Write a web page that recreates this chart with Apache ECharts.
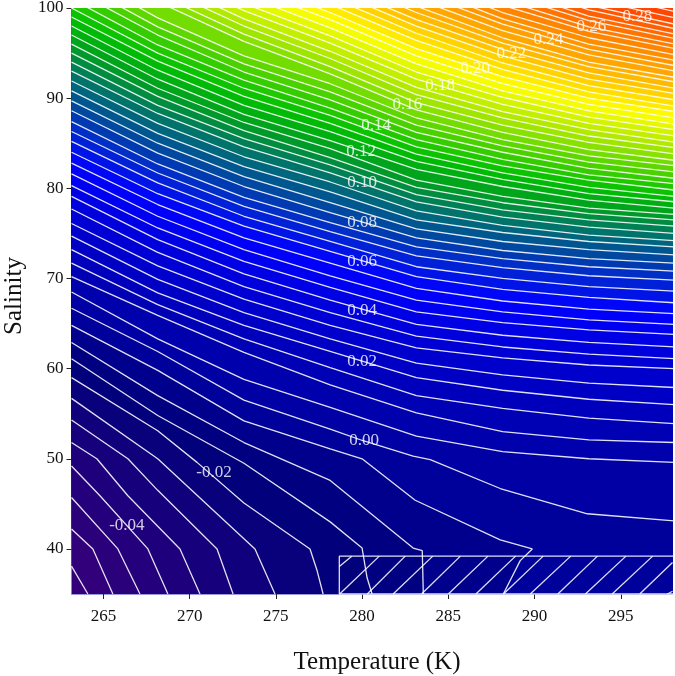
<!DOCTYPE html>
<html><head><meta charset="utf-8">
<style>html,body{margin:0;padding:0;background:#fff}#c{width:675px;height:676px}</style>
<script src="https://cdn.jsdelivr.net/npm/echarts@6/dist/echarts.min.js"></script>
</head><body><div id="c"></div>
<script>
const tempTicks = [265,270,275,280,285,290,295];
const salTicks = [40,50,60,70,80,90,100];
const columnT = [263.15,268.15,273.15,278.15,283.15,288.15,293.15,298.15];
const lowLevels = [-0.055,-0.05,-0.045,-0.04,-0.035,-0.03,-0.025,-0.02,-0.015,-0.01,-0.005,0];
const lowContours = [
 [[263.15,38.1],[264.10,35]],
 [[263.15,42.2],[264.39,40],[265.55,35]],
 [[263.15,45.7],[265.84,40],[267.12,35]],
 [[263.15,49.2],[264.80,45.9],[267.58,40],[268.74,35]],
 [[263.15,51.8],[264.62,50],[266.42,45.9],[269.44,40],[270.60,35]],
 [[263.15,54.3],[266.42,50],[268.15,46.5],[271.59,40],[272.52,35]],
 [[263.15,56.7],[268.15,50],[273.79,40],[274.95,35]],
 [[263.15,59.0],[268.15,53.1],[270.43,49.6],[273.15,45.1],[276.98,40],[277.39,37.6],[277.74,35]],
 [[263.15,61.1],[268.15,54.8],[273.15,49.5],[278.15,43.0],[280.0,40.1],[280.29,36.8],[280.58,35]],
 [[263.15,62.9],[268.15,57.0],[273.15,51.8],[278.15,47.6],[282.96,40.1],[283.49,39.8],[283.55,35]],
 [[263.15,64.8],[268.15,59.8],[273.15,54.2],[278.15,51.1],[280.0,50.0],[283.08,45.4],[288.01,41.0],[289.87,40],[289.17,38.7],[288.19,35]],
 [[263.15,66.7],[268.15,61.9],[273.15,56.5],[278.15,53.3],[280.06,52.0],[282.96,50.3],[283.95,49.9],[288.01,46.7],[293.06,43.9],[298.15,43.1]]
];
const upperLevels = [0.005,0.01,0.015,0.02,0.025,0.03,0.035,0.04,0.045,0.05,0.055,0.06,0.065,0.07,0.075,0.08,0.085,0.09,0.095,0.1,0.105,0.11,0.115,0.12,0.125,0.13,0.135,0.14,0.145,0.15,0.155,0.16,0.165,0.17,0.175,0.18,0.185,0.19,0.195,0.2,0.205,0.21,0.215,0.22,0.225,0.23,0.235,0.24,0.245,0.25,0.255,0.26,0.265,0.27,0.275,0.28,0.285,0.29];
const upperSalinity = [
 [68.5,63.3,58.8,55.7,52.5,50.8,50.0,49.6],
 [70.2,65.9,61.8,58.2,55.1,53.0,52.1,51.8],
 [71.7,67.1,63.3,60.1,57.0,55.6,54.5,53.9],
 [73.2,68.4,64.8,61.9,59.0,57.6,56.6,56.0],
 [74.7,69.9,66.2,63.3,60.6,59.3,58.4,57.9],
 [76.1,71.4,67.7,64.8,62.3,61.2,60.4,60.0],
 [77.7,72.9,69.1,66.2,63.6,62.4,61.6,61.1],
 [79.1,74.3,70.5,67.6,64.9,63.7,62.9,62.4],
 [80.3,75.6,71.9,69.0,66.3,65.1,64.3,63.8],
 [81.6,76.9,73.2,70.3,67.6,66.3,65.4,64.9],
 [82.8,78.2,74.5,71.7,68.9,67.5,66.6,66.1],
 [84.0,79.4,75.8,73.0,70.2,68.8,67.9,67.3],
 [85.2,80.6,76.9,74.1,71.3,70.0,69.1,68.6],
 [86.3,81.7,78.0,75.2,72.5,71.2,70.3,69.8],
 [87.4,82.7,79.0,76.2,73.5,72.2,71.3,70.8],
 [88.6,83.9,80.2,77.3,74.5,73.1,72.2,71.7],
 [89.7,85.0,81.3,78.4,75.5,74.1,73.2,72.6],
 [90.8,86.1,82.4,79.6,76.5,75.1,74.1,73.5],
 [91.9,87.2,83.5,80.7,77.5,75.9,74.8,74.2],
 [93.0,88.3,84.6,81.7,78.5,76.8,75.7,75.0],
 [94.0,89.2,85.5,82.6,79.3,77.6,76.5,75.8],
 [95.0,90.2,86.4,83.4,80.1,78.4,77.2,76.5],
 [96.0,91.1,87.3,84.4,80.9,79.1,77.8,77.1],
 [97.0,92.1,88.2,85.3,82.1,80.2,78.7,77.8],
 [98.0,93.1,89.2,86.3,83.0,81.0,79.4,78.5],
 [99.0,94.1,90.2,87.2,83.8,81.7,80.1,79.1],
 [100.0,95.0,91.1,88.1,84.6,82.5,80.9,79.8],
 [101.0,95.9,92.0,88.9,85.4,83.2,81.5,80.5],
 [102.1,97.0,92.9,89.8,86.2,84.0,82.2,81.1],
 [103.1,97.9,93.8,90.7,87.0,84.7,82.9,81.8],
 [104.2,98.9,94.7,91.6,87.8,85.4,83.6,82.5],
 [105.2,100.7,96.3,92.7,88.7,86.2,84.3,83.1],
 [106.2,101.5,97.1,93.5,89.5,87.0,85.1,83.8],
 [107.2,102.4,98.0,94.4,90.4,87.8,85.8,84.5],
 [108.2,103.2,98.8,95.2,91.2,88.5,86.5,85.1],
 [109.2,104.1,99.7,96.1,92.1,89.3,87.2,85.8],
 [110.2,104.9,100.5,96.9,92.9,90.1,87.9,86.5],
 [111.2,105.8,101.4,97.8,93.8,90.8,88.6,87.1],
 [112.2,106.7,102.3,98.7,94.7,91.6,89.3,87.8],
 [113.2,107.7,103.1,99.5,95.5,92.4,90.0,88.5],
 [114.2,108.7,104.0,100.4,96.4,93.2,90.7,89.1],
 [115.2,109.7,104.8,101.2,97.2,93.9,91.4,89.8],
 [116.2,110.7,105.6,102.0,98.0,94.7,92.1,90.5],
 [117.2,111.5,106.3,102.7,98.7,95.4,92.8,91.1],
 [118.2,112.5,107.1,103.5,99.5,96.1,93.5,91.8],
 [119.2,113.4,107.8,104.2,100.2,96.7,94.0,92.3],
 [120.2,114.3,108.6,105.0,101.0,97.5,94.8,93.0],
 [121.2,115.3,109.4,105.8,101.8,98.2,95.4,93.6],
 [122.2,116.2,110.1,106.5,102.5,98.8,96.0,94.2],
 [123.2,117.1,110.8,107.2,103.2,99.5,96.7,94.8],
 [124.2,118.1,111.7,108.1,104.1,100.3,97.4,95.5],
 [125.2,119.0,112.4,108.8,104.8,100.9,97.9,96.0],
 [126.2,120.0,113.2,109.6,105.6,101.6,98.6,96.6],
 [127.2,120.9,113.9,110.3,106.3,102.2,99.1,97.1],
 [128.2,121.8,114.6,111.0,107.0,102.9,99.8,97.7],
 [129.2,122.7,115.3,111.7,107.7,103.5,100.3,98.2],
 [130.2,123.7,116.2,112.6,108.6,104.3,101.0,98.9],
 [131.2,124.7,117.0,113.4,109.4,105.1,101.8,99.6]
];
const labelText = ['0.28','0.26','0.24','0.22','0.20','0.18','0.16','0.14','0.12','0.10','0.08','0.06','0.04','0.02','0.00','-0.02','-0.04'];
const labelT = [295.96,293.29,290.8,288.65,286.56,284.53,282.62,280.82,279.95,280,280,280,280,280,280.12,271.41,266.36];
const labelS = [99.1,97.9,96.45,94.9,93.3,91.45,89.3,87.0,84.1,80.6,76.2,71.9,66.45,60.8,52.0,48.45,42.6];
const hatchBox = [[298.2,39.2],[278.68,39.2],[278.68,35],[298.2,35]];
const hatchSegments = [
 [[278.68,38.04],[279.4,39.2]],[[278.7,35],[281.0,39.2]],[[280.3,35],[282.5,39.2]],[[281.8,35],[284.1,39.2]],
 [[283.45,35],[285.7,39.2]],[[285.0,35],[287.3,39.2]],[[286.6,35],[288.9,39.2]],[[288.2,35],[290.5,39.2]],
 [[289.75,35],[292.1,39.2]],[[291.35,35],[293.65,39.2]],[[292.95,35],[295.3,39.2]],[[294.5,35],[296.85,39.2]],
 [[296.1,35],[298,38.5]],[[297.7,35],[298,35.3]]
];
const colorLevels = [-0.055,-0.04,-0.025,-0.015,0,0.02,0.04,0.055,0.07,0.08,0.09,0.1,0.115,0.13,0.17,0.195,0.22,0.24,0.26,0.28,0.295];
const colorValues = ['#34007a','#22007c','#0c007c','#00007a','#0000a0','#0000c0','#0000e0','#0000ff','#0028d0','#0040a8','#005f88','#007a60','#00a020','#00c000','#a8e800','#ffff00','#ffbe00','#ff9a00','#ff7800','#ff5000','#ff3a00'];

function hex(c){return [1,3,5].map(i=>parseInt(c.substr(i,2),16));}
function bandColor(v){
  if(v<=colorLevels[0]) return colorValues[0];
  for(let i=1;i<colorLevels.length;i++){
    if(v<=colorLevels[i]){
      const f=(v-colorLevels[i-1])/(colorLevels[i]-colorLevels[i-1]);
      const a=hex(colorValues[i-1]),b=hex(colorValues[i]);
      return 'rgb('+a.map((x,k)=>Math.round(x+(b[k]-x)*f)).join(',')+')';
    }
  }
  return colorValues[colorValues.length-1];
}
const contours=[];
lowLevels.forEach((L,i)=>contours.push({L,pts:lowContours[i]}));
upperLevels.forEach((L,i)=>contours.push({L,pts:columnT.map((t,k)=>[t,upperSalinity[i][k]])}));

const series=[];
const lineColor='rgba(255,255,255,0.88)';
contours.forEach(c=>{
  const pts=c.pts.slice();
  const last=pts[pts.length-1];
  if(last[0]<298){pts.push([last[0],30]);pts.push([298.15,30]);}
  series.push({type:'line',data:pts,symbol:'none',silent:true,animation:false,z:2,
    lineStyle:{width:0},areaStyle:{origin:160,color:bandColor(c.L+0.0025),opacity:1}});
});
contours.forEach(c=>{
  series.push({type:'line',data:c.pts,symbol:'none',silent:true,animation:false,z:3,
    lineStyle:{width:1.3,color:lineColor}});
});
series.push({type:'line',data:hatchBox,symbol:'none',silent:true,animation:false,z:4,lineStyle:{width:1.3,color:lineColor}});
hatchSegments.forEach(s=>series.push({type:'line',data:s,symbol:'none',silent:true,animation:false,z:4,lineStyle:{width:1.3,color:lineColor}}));
series.push({type:'scatter',symbolSize:0,silent:true,animation:false,z:5,
  data:labelText.map((t,i)=>[labelT[i],labelS[i],t]),
  label:{show:true,position:'inside',formatter:p=>p.value[2],color:'#fff',fontFamily:'Liberation Serif',fontSize:17}});

const chart=echarts.init(document.getElementById('c'),null,{renderer:'canvas'});
chart.setOption({
  animation:false,
  backgroundColor:'#fff',
  grid:{left:71.5,right:2.5,top:8,bottom:82,show:true,backgroundColor:colorValues[0],borderWidth:0,outerBoundsMode:'none'},
  xAxis:{type:'value',min:263.15,max:298,name:'Temperature (K)',nameLocation:'middle',nameGap:56,
    nameTextStyle:{fontFamily:'Liberation Serif',fontSize:25,color:'#111',padding:[0,0,0,10]},
    axisLine:{show:true,onZero:false,lineStyle:{color:'#9a9ae0',width:1}},
    axisTick:{show:true,length:5,customValues:tempTicks,lineStyle:{color:'#222',width:1}},
    axisLabel:{customValues:tempTicks,margin:14,fontFamily:'Liberation Serif',fontSize:17,color:'#111'},
    splitLine:{show:false}},
  yAxis:{type:'value',min:35,max:100,name:'Salinity',nameLocation:'middle',nameGap:43,
    nameTextStyle:{fontFamily:'Liberation Serif',fontSize:25,color:'#111',padding:[0,0,0,10]},
    axisLine:{show:false,onZero:false},
    axisTick:{show:true,length:5,customValues:salTicks,lineStyle:{color:'#222',width:1}},
    axisLabel:{customValues:salTicks,margin:8,fontFamily:'Liberation Serif',fontSize:17,color:'#111'},
    splitLine:{show:false}},
  series
});
</script></body></html>
